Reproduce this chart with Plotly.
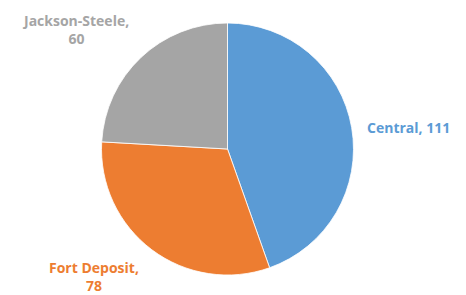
import plotly.graph_objects as go

labels = ["Central", "Fort Deposit", "Jackson-Steele"]
values = [111, 78, 60]
colors = ["#5B9BD5", "#ED7D31", "#A5A5A5"]
label_breaks = [", ", ",<br>", ",<br>"]

W, H = 466, 295
cx, cy, r = 227.5, 149, 126

# label anchor positions (pixels, layout only)
label_pos = [(408, 127), (94, 276), (75, 30)]

texts = [f"{l}{b}{v}" for l, b, v in zip(labels, label_breaks, values)]

fig = go.Figure(go.Pie(
    labels=labels,
    values=values,
    textinfo="none",
    sort=False,
    direction="clockwise",
    rotation=0,
    marker=dict(colors=colors, line=dict(color="white", width=0.8)),
    showlegend=False,
    hoverinfo="label+value",
    domain=dict(x=[(cx - r) / W, (cx + r) / W], y=[(H - cy - r) / H, (H - cy + r) / H]),
))
for t, c, (px, py) in zip(texts, colors, label_pos):
    fig.add_annotation(
        x=px / W, y=1 - py / H, xref="paper", yref="paper",
        text=t, showarrow=False, align="center",
        xanchor="center", yanchor="middle",
        font=dict(family="Open Sans", size=14, weight="bold", color=c),
    )
fig.update_layout(
    width=W, height=H,
    margin=dict(l=0, r=0, t=0, b=0),
    paper_bgcolor="white",
)
fig.write_html("out.html", config={"displayModeBar": False},
               post_script="document.body.style.margin='0';")
